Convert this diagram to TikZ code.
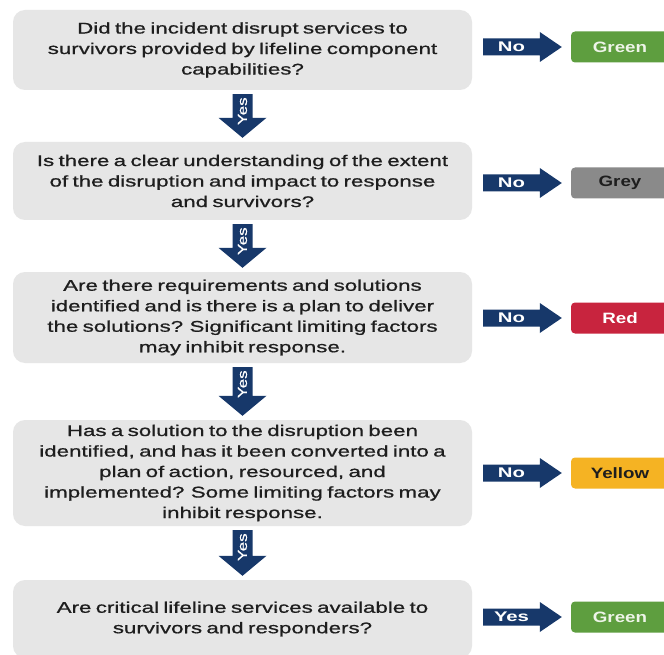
\documentclass[tikz,border=0pt]{standalone}
\usepackage{fontspec}
\setmainfont{Liberation Sans}
\newfontfamily\qfam[FakeStretch=1.44, WordSpace=0.7, FakeBold=0.8]{Liberation Sans}
\newfontfamily\rfam[FakeStretch=1.25]{Liberation Sans Bold}
\newfontfamily\nfam[FakeStretch=1.45]{Liberation Sans Bold}
\newfontfamily\yfam[FakeStretch=1.3, FakeBold=0.6]{Liberation Sans}
\newcommand\myqfont{\qfam\fontsize{15.5}{20.5}\selectfont}
\newcommand\myrfont{\rfam\fontsize{15}{18}\selectfont}
\newcommand\mynofont{\nfam\fontsize{14}{16}\selectfont}
\newcommand\myyesfont{\yfam\fontsize{13}{14}\selectfont}
\usetikzlibrary{calc}
\definecolor{boxgrey}{HTML}{E6E6E6}
\definecolor{navy}{HTML}{17386A}
\definecolor{textdark}{HTML}{1E1E1E}
\definecolor{resgreen}{HTML}{5E9E3F}
\definecolor{resgrey}{HTML}{8A8A8A}
\definecolor{resred}{HTML}{C8243E}
\definecolor{resyellow}{HTML}{F5B323}
\definecolor{greentext}{HTML}{EEF4E8}
\tikzset{
  qbox/.style={fill=boxgrey, rounded corners=12pt, minimum width=459pt, inner sep=0pt, align=center, text=textdark, font=\myqfont},
  res/.style={rounded corners=4pt, minimum width=98pt, minimum height=31pt, inner sep=0pt, font=\myrfont},
  navyfill/.style={fill=navy},
  nolbl/.style={text=white, inner sep=0pt, font=\mynofont},
  yeslbl/.style={text=white, inner sep=0pt, font=\myyesfont, rotate=90}
}
% down arrow between two question boxes: #1 upper, #2 lower, #3 label name
\newcommand\yesarrow[3]{%
  \path[navyfill] let \p1=(#1.south), \p2=(#2.north) in
    (\x1-10pt,\y1-4pt) -- (\x1+10pt,\y1-4pt) -- (\x1+10pt,\y2+24pt) -- (\x1+24pt,\y2+24pt)
    -- (\x1,\y2+4pt) -- (\x1-24pt,\y2+24pt) -- (\x1-10pt,\y2+24pt) -- cycle;
  \path let \p1=(#1.south) in node[yeslbl] (#3) at (\x1,\y1-21pt) {Yes};
}
% right arrow from question box #1 to result #2, label #3 text #4
\newcommand\sidearrow[4]{%
  \path[navyfill] let \p1=(#1.east), \p2=(#2.west) in
    (\x1+11pt,\y2-8.5pt) -- (\x2-31pt,\y2-8.5pt) -- (\x2-31pt,\y2-15pt) -- (\x2-9pt,\y2)
    -- (\x2-31pt,\y2+15pt) -- (\x2-31pt,\y2+8.5pt) -- (\x1+11pt,\y2+8.5pt) -- cycle;
  \path let \p1=(#1.east), \p2=(#2.west) in node[nolbl] (#3) at ({(\x1+11pt+\x2-31pt)/2},\y2) {#4};
}
\begin{document}
\begin{tikzpicture}[x=1pt,y=-1pt]
\useasboundingbox (0,0) rectangle (664,655);
\clip (0,0) rectangle (664,655);
\fill[white] (0,0) rectangle (664,655);

\node[qbox, minimum height=80pt] (q1) at (242.5,50)
  {Did the incident disrupt services to\\survivors provided by lifeline component\\capabilities?};
\node[qbox, minimum height=78pt] (q2) at (242.5,181)
  {Is there a clear understanding of the extent\\of the disruption and impact to response\\and survivors?};
\node[qbox, minimum height=91pt] (q3) at (242.5,317.5)
  {Are there requirements and solutions\\identified and is there is a plan to deliver\\the solutions? Significant limiting factors\\may inhibit response.};
\node[qbox, minimum height=106pt] (q4) at (242.5,473)
  {Has a solution to the disruption been\\identified, and has it been converted into a\\plan of action, resourced, and\\implemented? Some limiting factors may\\inhibit response.};
\node[qbox, minimum height=78pt] (q5) at (242.5,619)
  {Are critical lifeline services available to\\survivors and responders?};

\node[res, fill=resgreen, text=greentext] (r1) at (620,47) {Green};
\node[res, fill=resgrey, text=textdark] (r2) at (620,183) {Grey};
\node[res, fill=resred, text=white] (r3) at (620,318) {Red};
\node[res, fill=resyellow, text=textdark] (r4) at (620,473) {Yellow};
\node[res, fill=resgreen, text=greentext] (r5) at (620,617) {Green};

\yesarrow{q1}{q2}{y1}
\yesarrow{q2}{q3}{y2}
\yesarrow{q3}{q4}{y3}
\yesarrow{q4}{q5}{y4}

\sidearrow{q1}{r1}{n1}{No}
\sidearrow{q2}{r2}{n2}{No}
\sidearrow{q3}{r3}{n3}{No}
\sidearrow{q4}{r4}{n4}{No}
\sidearrow{q5}{r5}{n5}{Yes}
\end{tikzpicture}
\end{document}
